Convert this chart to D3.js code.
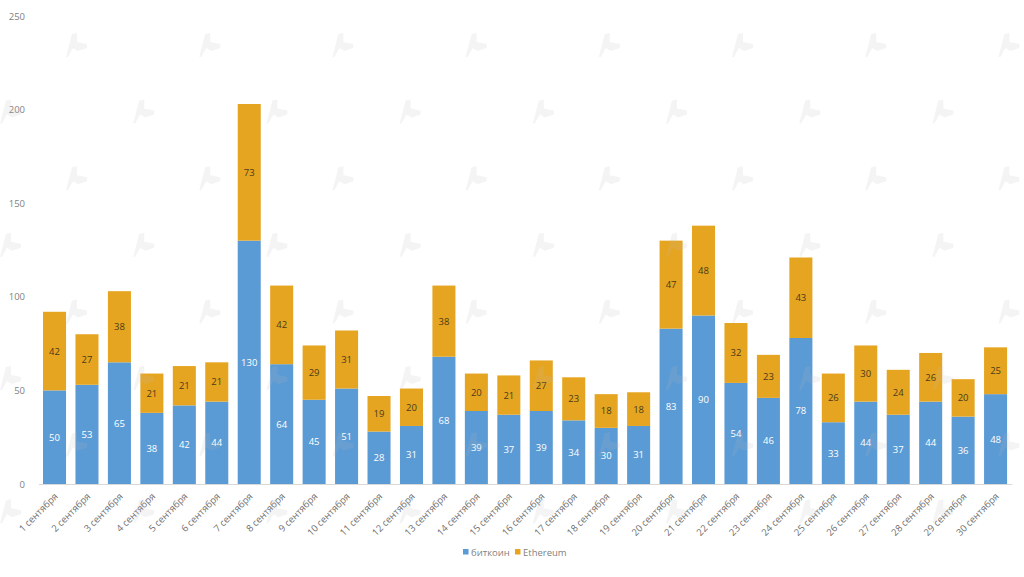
<!DOCTYPE html>
<html><head><meta charset="utf-8">
<script src="https://cdn.jsdelivr.net/npm/d3@7/dist/d3.min.js"></script>
<style>html,body{margin:0;padding:0;background:#fff}svg{display:block}text{font-family:"Open Sans",sans-serif}</style>
</head><body><svg id="c" width="1024" height="577"></svg>
<script>
const days = d3.range(1,31).map(d => d + " сентября");
const bitcoin = [50,53,65,38,42,44,130,64,45,51,28,31,68,39,37,39,34,30,31,83,90,54,46,78,33,44,37,44,36,48];
const ethereum = [42,27,38,21,21,21,73,42,29,31,19,20,38,20,21,27,23,18,18,47,48,32,23,43,26,30,24,26,20,25];
const seriesNames = ["биткоин","Ethereum"];
const colors = ["#5b9bd5","#e6a520"];
const yTicks = [0,50,100,150,200,250];

const svg = d3.select("#c");
const x = d3.scaleBand().domain(days).range([38.3,1011.8]).paddingInner(0.29).paddingOuter(0.145);
const y = d3.scaleLinear().domain([0,250]).range([484,16]);

const rows = days.map((d,i)=>({day:d,биткоин:bitcoin[i],Ethereum:ethereum[i]}));
const stacked = d3.stack().keys(seriesNames)(rows);

const g = svg.selectAll("g.s").data(stacked).join("g").attr("fill",(d,i)=>colors[i]);
g.selectAll("rect").data(d=>d).join("rect")
 .attr("x",d=>x(d.data.day)).attr("width",x.bandwidth())
 .attr("y",d=>y(d[1])).attr("height",d=>y(d[0])-y(d[1]));

const labels = svg.selectAll("g.l").data(stacked).join("g")
 .attr("fill",(d,i)=>i===0?"#ffffff":"#4a3a1a").attr("font-size",9.5).attr("text-anchor","middle");
labels.selectAll("text").data(d=>d).join("text")
 .attr("x",d=>x(d.data.day)+x.bandwidth()/2).attr("y",d=>(y(d[0])+y(d[1]))/2+3.5)
 .text(d=>d[1]-d[0]);

const yAxis = d3.axisLeft(y).tickValues(yTicks).tickSize(0).tickPadding(0);
const ya = svg.append("g").attr("transform","translate(25,0)").call(yAxis);
ya.select(".domain").remove();
ya.selectAll("text").attr("fill","#7f7f7f").attr("font-size",9.5).attr("font-family",'"Open Sans",sans-serif');

const xAxis = d3.axisBottom(x).tickSize(0);
const xa = svg.append("g").attr("transform","translate(0,484)").call(xAxis);
xa.select(".domain").attr("stroke","#d9d9d9").attr("stroke-width",1);
xa.selectAll("text").attr("fill","#6f6f6f").attr("font-size",9.5).attr("font-family",'"Open Sans",sans-serif')
  .attr("text-anchor","end").attr("dy",0).attr("y",0)
  .attr("transform","translate(4,13) rotate(-45)");

const legend = svg.append("g").attr("font-size",9.5);
const lx = [463,515];
seriesNames.forEach((n,i)=>{
  legend.append("rect").attr("x",lx[i]).attr("y",549).attr("width",5.5).attr("height",5.5).attr("fill",colors[i]);
  legend.append("text").attr("x",lx[i]+8).attr("y",555.5).attr("fill","#7f7f7f").text(n);
});

// faint watermark
const wm = svg.append("g").attr("fill","#bbbbbb").attr("opacity",0.16);
d3.range(0,8).forEach(r=>d3.range(0,9).forEach(c=>{
  const cx = (r%2===0?76:10)+c*133.2, cy = 45+r*66.6;
  if(cx>1040||cy>570) return;
  wm.append("path").attr("transform",`translate(${cx},${cy})`)
    .attr("d","M-10,12 L-4,-11 L1,-12 L1,-3 L11,-1 L11,3 L2,6 L-3,3 L-8,12 Z");
}));
</script></body></html>
